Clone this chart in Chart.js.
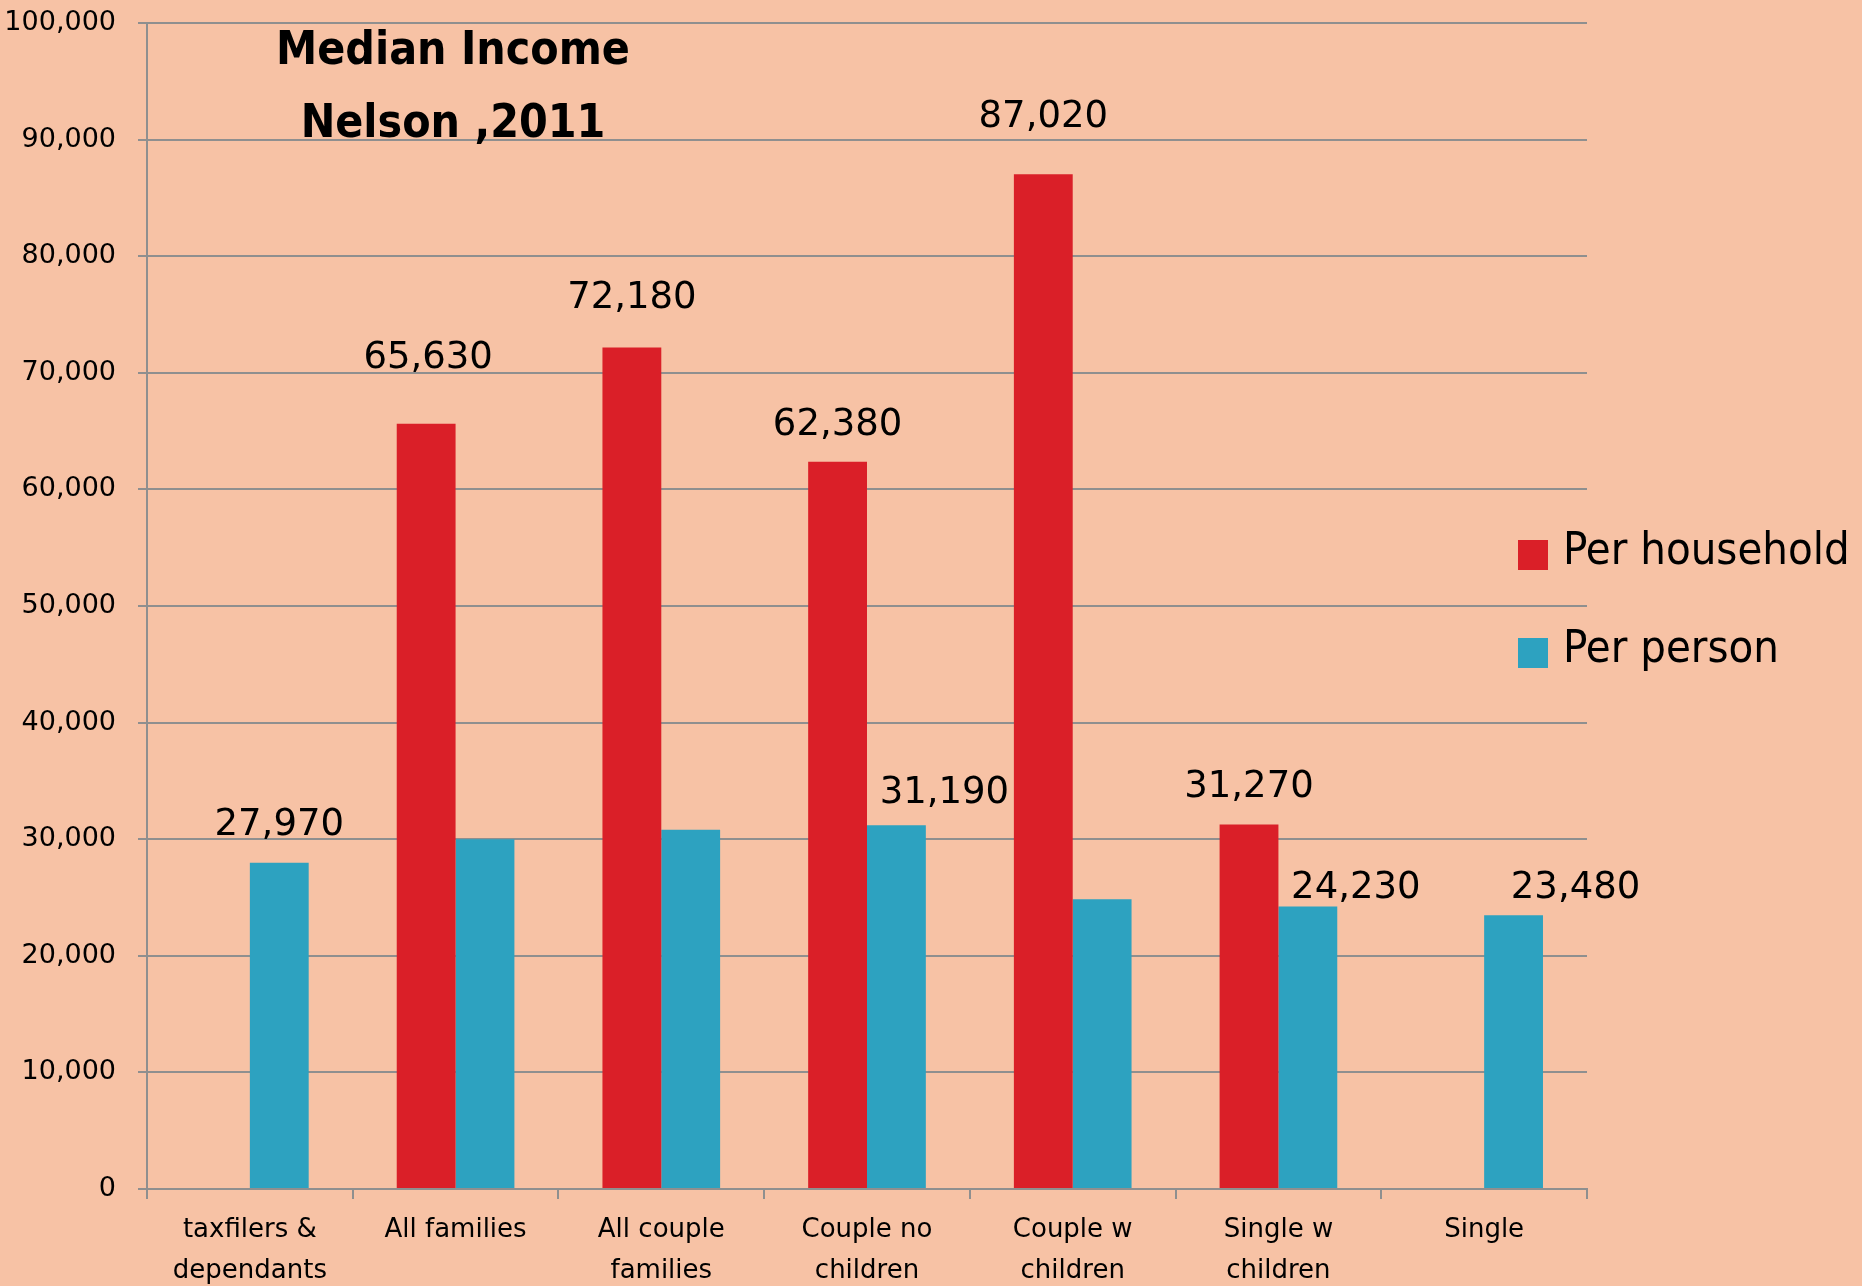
<!DOCTYPE html>
<html>
<head>
<meta charset="utf-8">
<script src="https://cdn.jsdelivr.net/npm/chart.js@4/dist/chart.umd.min.js"></script>
<style>
  html, body { margin: 0; padding: 0; background: #F7C2A5; }
  #wrap { width: 1862px; height: 1286px; position: relative; }
</style>
</head>
<body>
<div id="wrap"><canvas id="incomeChart"></canvas></div>
<script>
// data
var categories = [
  ['taxfilers &', 'dependants'],
  'All families',
  ['All couple', 'families'],
  ['Couple no', 'children'],
  ['Couple w', 'children'],
  ['Single w', 'children'],
  'Single'
];
var perHousehold = [null, 65630, 72180, 62380, 87020, 31270, null];
var perPerson = [27970, 30000, 30800, 31190, 24850, 24230, 23480];
var seriesNames = ['Per household', 'Per person'];
var titleLines = ['Median Income', 'Nelson ,2011'];

var GRID = '#8f8f8f';

// value labels: [dataset, index, dx, dy above bar top]
var valueLabels = [
  [0, 1, 2, -56], [0, 2, 0, -39], [0, 3, 0, -27], [0, 4, 0, -47], [0, 5, 0, -27],
  [1, 0, 0, -28], [1, 3, 48, -22], [1, 5, 48, -8], [1, 6, 62, -17]
];

var decorPlugin = {
  id: 'decor',
  afterDatasetsDraw: function(chart) {
    var ctx = chart.ctx;
    ctx.save();
    ctx.fillStyle = '#000';
    ctx.font = '37px "DejaVu Sans"';
    ctx.textAlign = 'center';
    ctx.textBaseline = 'alphabetic';
    valueLabels.forEach(function(l) {
      var bar = chart.getDatasetMeta(l[0]).data[l[1]];
      var v = chart.data.datasets[l[0]].data[l[1]];
      ctx.fillText(v.toLocaleString('en-US'), bar.x + l[2], bar.y + l[3]);
    });
    ctx.restore();
  },
  afterDraw: function(chart) {
    var ctx = chart.ctx;
    ctx.save();
    // title sits inside the plot
    ctx.fillStyle = '#000';
    ctx.font = 'bold 46px "DejaVu Sans Condensed"';
    ctx.textAlign = 'center';
    ctx.textBaseline = 'alphabetic';
    ctx.fillText(titleLines[0], 453, 64);
    ctx.fillText(titleLines[1], 453, 137);
    // legend, overlapping the grid on the right
    ctx.textAlign = 'left';
    ctx.font = '45px "DejaVu Sans Condensed"';
    chart.data.datasets.forEach(function(ds, i) {
      var top = 540 + i * 98;
      ctx.fillStyle = ds.backgroundColor;
      ctx.fillRect(1518, top, 30, 30);
      ctx.fillStyle = '#000';
      ctx.fillText(ds.label, 1563, top + 24);
    });
    ctx.restore();
  }
};

new Chart(document.getElementById('incomeChart').getContext('2d'), {
  type: 'bar',
  data: {
    labels: categories,
    datasets: [{
      label: seriesNames[0],
      data: perHousehold,
      backgroundColor: '#DA1F28'
    }, {
      label: seriesNames[1],
      data: perPerson,
      backgroundColor: '#2DA2C0'
    }]
  },
  options: {
    responsive: true,
    maintainAspectRatio: false,
    animation: false,
    categoryPercentage: 0.572,
    barPercentage: 1,
    layout: { padding: { top: 23, right: 275, left: 0, bottom: 0 } },
    plugins: {
      legend: { display: false },
      tooltip: { enabled: false }
    },
    scales: {
      x: {
        offset: true,
        grid: { display: true, drawOnChartArea: false, offset: true, color: GRID, lineWidth: 2, tickLength: 10 },
        border: { display: true, color: GRID, width: 2 },
        ticks: {
          color: '#000',
          font: { family: '"DejaVu Sans"', size: 26, lineHeight: 1.56 },
          padding: 11,
          maxRotation: 0,
          autoSkip: false
        },
        afterFit: function(s) { s.height = 97; }
      },
      y: {
        min: 0,
        max: 100000,
        grid: { color: GRID, lineWidth: 2, tickLength: 9 },
        border: { display: true, color: GRID, width: 2 },
        ticks: {
          stepSize: 10000,
          color: '#000',
          padding: 22,
          font: { family: '"DejaVu Sans"', size: 27 },
          callback: function(v) { return v.toLocaleString('en-US'); }
        },
        afterFit: function(s) {
          s.width = 147;
          s.paddingTop = 0;
          s.paddingBottom = 0;
        }
      }
    }
  },
  plugins: [decorPlugin]
});
</script>
</body>
</html>
